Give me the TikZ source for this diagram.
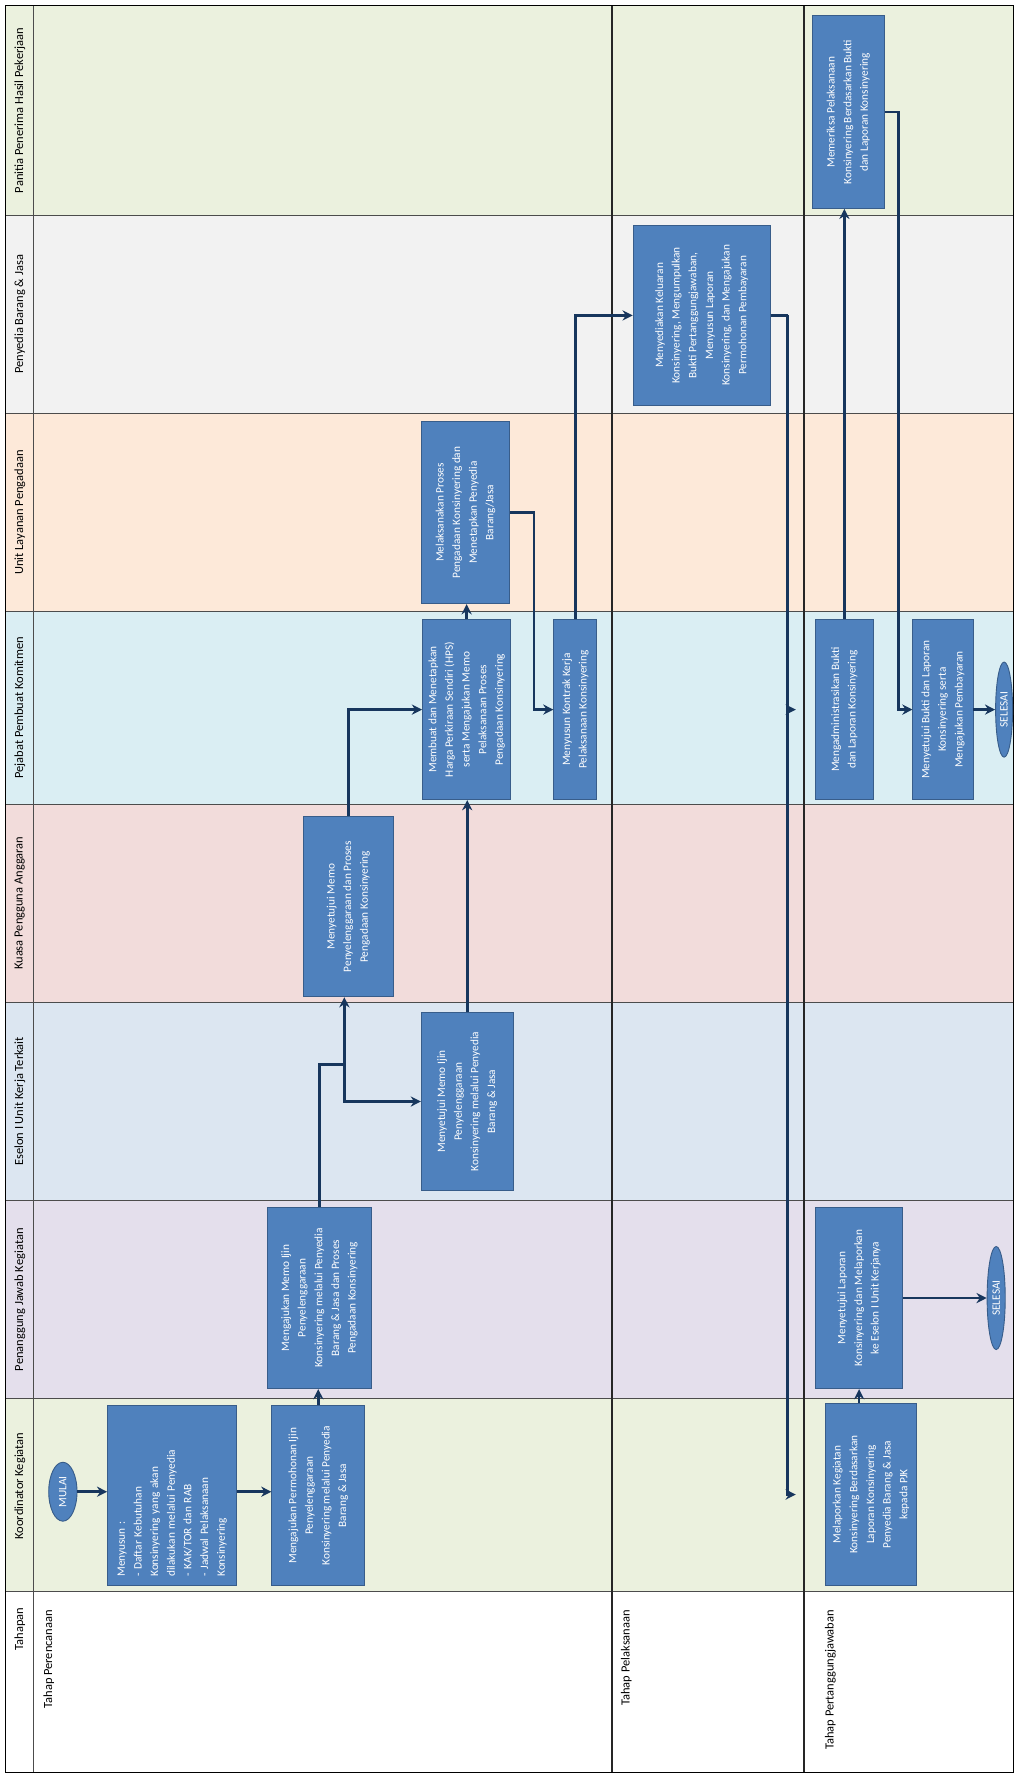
\documentclass[tikz,border=0pt]{standalone}
\usepackage{fontspec}
\setmainfont{Carlito}
\usepackage{tikz}
\usepackage{xcolor}
\usetikzlibrary{arrows.meta,shapes.geometric}

\definecolor{boxblue}{HTML}{4F81BD}
\definecolor{boxedge}{HTML}{385D8A}
\definecolor{flowblue}{HTML}{17365D}
\definecolor{lanegreen}{HTML}{EBF1DE}
\definecolor{lanegray}{HTML}{F2F2F2}
\definecolor{lanepeach}{HTML}{FDE9D9}
\definecolor{lanecyan}{HTML}{DAEEF3}
\definecolor{lanepink}{HTML}{F2DCDB}
\definecolor{laneblue}{HTML}{DCE6F1}
\definecolor{lanepurple}{HTML}{E4DFEC}

\begin{document}
\begin{tikzpicture}[x=1pt, y=-1pt, >={Stealth[length=9pt,width=9pt]},
    box/.style={draw=boxedge, line width=0.8pt, fill=boxblue, text=white, rotate=90, align=center, inner sep=3pt, font=\fontsize{10}{14.7}\selectfont},
    oval/.style={ellipse, draw=boxedge, line width=0.8pt, fill=boxblue, text=white, rotate=90, inner sep=0pt, font=\fontsize{10}{11}\selectfont},
    flow/.style={draw=flowblue, line width=2.4pt, ->},
    link/.style={draw=flowblue, line width=2.4pt},
    laneline/.style={draw=black!70, line width=0.9pt},
    phaseline/.style={draw=black!85, line width=1.8pt},
    lanetext/.style={rotate=90, font=\fontsize{11}{12}\selectfont}]
    \useasboundingbox (0,0) rectangle (898,1568);
    \fill[white] (0,0) rectangle (898,1568);

    \fill[lanegreen] (5,5) rectangle (895,190);
    \fill[lanegray] (5,190) rectangle (895,365);
    \fill[lanepeach] (5,365) rectangle (895,540);
    \fill[lanecyan] (5,540) rectangle (895,710);
    \fill[lanepink] (5,710) rectangle (895,885);
    \fill[laneblue] (5,885) rectangle (895,1060);
    \fill[lanepurple] (5,1060) rectangle (895,1235);
    \fill[lanegreen] (5,1235) rectangle (895,1405);

    \draw[laneline] (5,190) -- (895,190);
    \draw[laneline] (5,365) -- (895,365);
    \draw[laneline] (5,540) -- (895,540);
    \draw[laneline] (5,710) -- (895,710);
    \draw[laneline] (5,885) -- (895,885);
    \draw[laneline] (5,1060) -- (895,1060);
    \draw[laneline] (5,1235) -- (895,1235);
    \draw[laneline] (5,1405) -- (895,1405);
    \draw[laneline] (30,5) -- (30,1565);
    \draw[phaseline] (540,5) -- (540,1565);
    \draw[phaseline] (710,5) -- (710,1565);
    \draw[black, line width=1.2pt] (5,5) rectangle (895,1565);

    \node[lanetext] (hpanitia) at (17.5,97.5) {Panitia Penerima Hasil Pekerjaan};
    \node[lanetext] (hpenyedia) at (17.5,277.5) {Penyedia Barang \& Jasa};
    \node[lanetext] (hulp) at (17.5,452.5) {Unit Layanan Pengadaan};
    \node[lanetext] (hppk) at (17.5,625) {Pejabat Pembuat Komitmen};
    \node[lanetext] (hkpa) at (17.5,797.5) {Kuasa Pengguna Anggaran};
    \node[lanetext] (heselon) at (17.5,972.5) {Eselon I Unit Kerja Terkait};
    \node[lanetext] (hpjk) at (17.5,1147.5) {Penanggung Jawab Kegiatan};
    \node[lanetext] (hkoord) at (17.5,1312) {Koordinator Kegiatan};
    \node[lanetext, anchor=east] (htahapan) at (17.5,1416) {Tahapan};

    \node[lanetext, anchor=east] (perencanaan) at (43,1418) {Tahap Perencanaan};
    \node[lanetext, anchor=east] (pelaksanaan) at (553,1418) {Tahap Pelaksanaan};
    \node[lanetext, anchor=east] (pertanggungjawaban) at (733,1418) {Tahap Pertanggungjawaban};

    \node[oval, minimum width=52pt, minimum height=25pt] (mulai) at (55.5,1317) {MULAI};
    \node[box, minimum width=159pt, minimum height=114pt, text width=143pt, align=left] (susun) at (152,1320.5)
        {Menyusun :\\- Daftar Kebutuhan\\Konsinyering yang akan\\dilakukan melalui Penyedia\\- KAK/TOR dan RAB\\- Jadwal Pelaksanaan\\Konsinyering};
    \node[box, minimum width=159pt, minimum height=82pt] (mohon) at (281,1320.5)
        {Mengajukan Permohonan Ijin\\Penyelenggaraan\\Konsinyering melalui Penyedia\\Barang \& Jasa};
    \node[box, minimum width=160pt, minimum height=92pt] (memo) at (282,1146)
        {Mengajukan Memo Ijin\\Penyelenggaraan\\Konsinyering melalui Penyedia\\Barang \& Jasa dan Proses\\Pengadaan Konsinyering};
    \node[box, minimum width=157pt, minimum height=81pt] (setujuijin) at (412.5,972.5)
        {Menyetujui Memo Ijin\\Penyelenggaraan\\Konsinyering melalui Penyedia\\Barang \& Jasa};
    \node[box, minimum width=159pt, minimum height=79pt] (setujumemo) at (307.5,800.5)
        {Menyetujui Memo\\Penyelenggaraan dan Proses\\Pengadaan Konsinyering};
    \node[box, minimum width=159pt, minimum height=78pt] (hps) at (412,626.5)
        {Membuat dan Menetapkan\\Harga Perkiraan Sendiri (HPS)\\serta Mengajukan Memo\\Pelaksanaan Proses\\Pengadaan Konsinyering};
    \node[box, minimum width=161pt, minimum height=78pt] (proses) at (411,452.5)
        {Melaksanakan Proses\\Pengadaan Konsinyering dan\\Menetapkan Penyedia\\Barang/Jasa};
    \node[box, minimum width=159pt, minimum height=38pt] (kontrak) at (508,626.5)
        {Menyusun Kontrak Kerja\\Pelaksanaan Konsinyering};
    \node[box, minimum width=159pt, minimum height=121pt] (keluaran) at (619.5,278.5)
        {Menyediakan Keluaran\\Konsinyering, Mengumpulkan\\Bukti Pertanggungjawaban,\\Menyusun Laporan\\Konsinyering, dan Mengajukan\\Permohonan Pembayaran};
    \node[box, minimum width=170pt, minimum height=64pt] (periksa) at (749,99)
        {Memeriksa Pelaksanaan\\Konsinyering Berdasarkan Bukti\\dan Laporan Konsinyering};
    \node[box, minimum width=159pt, minimum height=51pt] (admin) at (745.5,626.5)
        {Mengadministrasikan Bukti\\dan Laporan Konsinyering};
    \node[box, minimum width=159pt, minimum height=53pt] (bayar) at (832.5,626.5)
        {Menyetujui Bukti dan Laporan\\Konsinyering serta\\Mengajukan Pembayaran};
    \node[oval, minimum width=84pt, minimum height=15pt] (selesaiB) at (886.5,626.5) {SELESAI};
    \node[box, minimum width=160pt, minimum height=77pt] (lapor) at (758.5,1146)
        {Menyetujui Laporan\\Konsinyering dan Melaporkan\\ke Eselon I Unit Kerjanya};
    \node[oval, minimum width=91pt, minimum height=16pt] (selesaiA) at (879.5,1146) {SELESAI};
    \node[box, minimum width=161pt, minimum height=80pt] (kegiatan) at (769,1319.5)
        {Melaporkan Kegiatan\\Konsinyering Berdasarkan\\Laporan Konsinyering\\Penyedia Barang \& Jasa\\kepada PJK};

    \coordinate (pisah) at (304,940);
    \path (keluaran.south) ++(15,0) coordinate (turun);

    \draw[flow] (mulai) -- (susun.north |- mulai);
    \draw[flow] (susun.south |- mulai) -- (mohon.north |- mulai);
    \draw[flow] (mohon.east) -- (mohon.east |- memo.west);
    \draw[link] (memo.east) |- (pisah);
    \draw[flow] (pisah) -- (pisah |- setujumemo.west);
    \draw[flow] (pisah) |- (setujuijin.north);
    \draw[flow] (setujuijin.east) -- (setujuijin.east |- hps.west);
    \draw[flow] (setujumemo.east) |- (hps.north);
    \draw[flow] (hps.east) -- (hps.east |- proses.west);
    \draw[flow] (proses.south) -- ++(21,0) |- (kontrak.north);
    \draw[flow] (kontrak.east) |- (keluaran.north);
    \draw[link] (keluaran.south) -- (turun);
    \draw[flow, shorten >=17pt] (turun) |- (admin.north);
    \draw[flow, shorten >=26pt] (turun) |- (kegiatan.north);
    \draw[flow] (admin.east) -- (admin.east |- periksa.west);
    \draw[flow] (periksa.south) -- ++(12,0) |- (bayar.north);
    \draw[flow] (bayar.south) -- (bayar.south -| selesaiB.north);
    \draw[flow] (lapor.west |- kegiatan.east) -- (lapor.west);
    \draw[flow] (lapor.south) -- (selesaiA.north);
\end{tikzpicture}
\end{document}
